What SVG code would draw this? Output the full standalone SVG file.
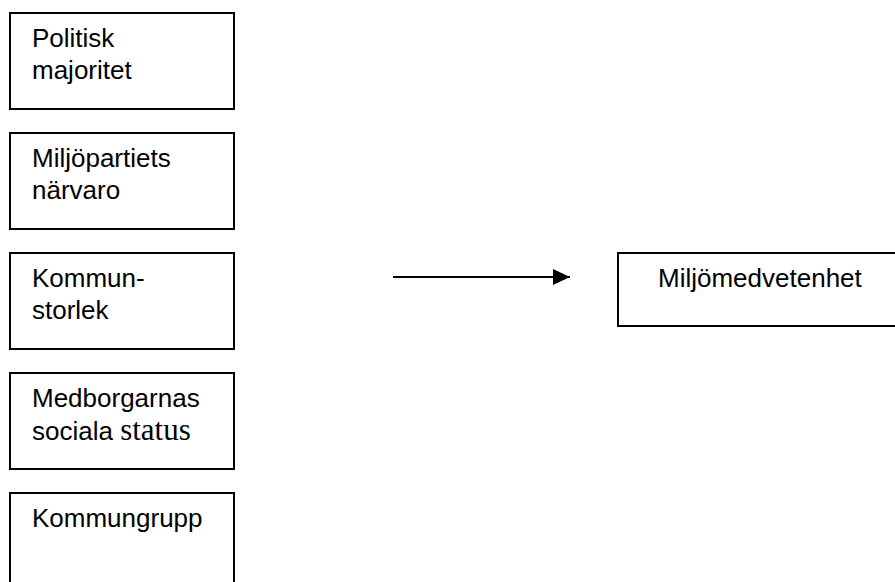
<svg xmlns="http://www.w3.org/2000/svg" width="895" height="582" viewBox="0 0 895 582">
  <style>
    .box { fill: #fff; stroke: #000; stroke-width: 2; }
    .t { font-family: "Liberation Sans", Arial, sans-serif; font-size: 26px; fill: #000; }
    .serif { font-family: "Liberation Serif", "Times New Roman", serif; font-size: 31px; }
    .conn { stroke: #000; stroke-width: 2; fill: none; }
  </style>
  <defs>
    <marker id="arrow" markerUnits="userSpaceOnUse" markerWidth="17" markerHeight="16" refX="17" refY="8" orient="auto">
      <path d="M0,0 L17,8 L0,16 Z" fill="#000"/>
    </marker>
  </defs>
  <rect width="895" height="582" fill="#fff"/>
  <g id="politisk-majoritet">
    <rect class="box" x="10" y="13" width="224" height="96"/>
    <text class="t" x="32" y="47">Politisk</text>
    <text class="t" x="32" y="79">majoritet</text>
  </g>
  <g id="miljopartiets-narvaro">
    <rect class="box" x="10" y="133" width="224" height="96"/>
    <text class="t" x="32" y="167">Miljöpartiets</text>
    <text class="t" x="32" y="199">närvaro</text>
  </g>
  <g id="kommunstorlek">
    <rect class="box" x="10" y="253" width="224" height="96"/>
    <text class="t" x="32" y="287">Kommun-</text>
    <text class="t" x="32" y="319">storlek</text>
  </g>
  <g id="medborgarnas-sociala-status">
    <rect class="box" x="10" y="373" width="224" height="96"/>
    <text class="t" x="32" y="407">Medborgarnas</text>
    <text class="t" x="32" y="440">sociala <tspan class="serif">status</tspan></text>
  </g>
  <g id="kommungrupp">
    <rect class="box" x="10" y="493" width="224" height="110"/>
    <text class="t" x="32" y="527">Kommungrupp</text>
  </g>
  <g id="miljomedvetenhet">
    <rect class="box" x="618" y="253" width="300" height="73"/>
    <text class="t" x="658" y="287">Miljömedvetenhet</text>
  </g>
  <g id="connectors">
    <line class="conn" x1="393" y1="277" x2="570" y2="277" marker-end="url(#arrow)"/>
  </g>
</svg>
